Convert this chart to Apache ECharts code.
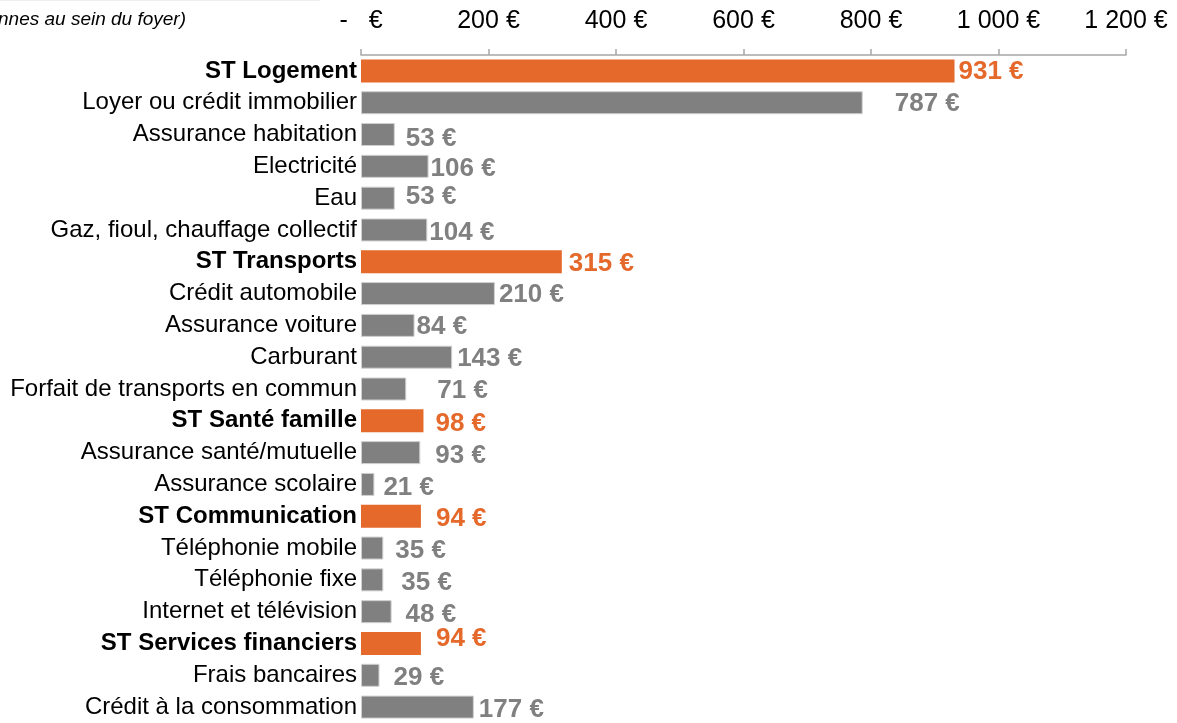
<!DOCTYPE html>
<html>
<head>
<meta charset="utf-8">
<script src="https://cdn.jsdelivr.net/npm/echarts@6/dist/echarts.min.js"></script>
<style>
  html, body { margin: 0; padding: 0; background: #fff; }
  #chart { width: 1177px; height: 723px; }
</style>
</head>
<body>
<div id="chart"></div>
<script>
const categories = [
  'ST Logement', 'Loyer ou crédit immobilier', 'Assurance habitation', 'Electricité', 'Eau',
  'Gaz, fioul, chauffage collectif', 'ST Transports', 'Crédit automobile', 'Assurance voiture',
  'Carburant', 'Forfait de transports en commun', 'ST Santé famille', 'Assurance santé/mutuelle',
  'Assurance scolaire', 'ST Communication', 'Téléphonie mobile', 'Téléphonie fixe',
  'Internet et télévision', 'ST Services financiers', 'Frais bancaires', 'Crédit à la consommation'
]
const values = [931, 787, 53, 106, 53, 104, 315, 210, 84, 143, 71, 98, 93, 21, 94, 35, 35, 48, 94, 29, 177]
const subtotal = [true, false, false, false, false, false, true, false, false, false, false,
  true, false, false, true, false, false, false, true, false, false]
const tickValues = [0, 200, 400, 600, 800, 1000, 1200]

// label nudges (px), as placed in the original sheet
const labelDx = [4, 32, 11, 2, 11, 2, 7, 4, 2, 5, 31, 12, 15, 9, 15, 12, 18, 14, 15, 14, 5]
const labelDy = [1, 1, 4, 2, -1, 3, 2, 1, 1, 2, 2, 3, 3, 3, 3, 3, 3, 3, -5, 3, 3]

const ORANGE = '#e4692a'
const GREY = '#808080'

const fmtEuro = v => {
  if (v === 0) return '-   €'
  return String(v).replace(/\B(?=(\d{3})+(?!\d))/g, ' ') + ' €'
}

const chart = echarts.init(document.getElementById('chart'))

const option = {
  animation: false,
  textStyle: { fontFamily: 'Liberation Sans, Arial, sans-serif' },
  graphic: [{
    type: 'line',
    shape: { x1: 0, y1: 0.5, x2: 320, y2: 0.5 },
    style: { stroke: '#eeeeee', lineWidth: 1 }
  }, {
    type: 'text',
    x: 186,
    y: 10,
    style: {
      text: '(sur la base de 4 personnes au sein du foyer)',
      font: 'italic 19px Liberation Sans, Arial, sans-serif',
      fill: '#000',
      align: 'right'
    }
  }],
  grid: { left: 361, right: 51, top: 55, bottom: -8, containLabel: false },
  xAxis: {
    type: 'value',
    position: 'top',
    min: 0,
    max: 1200,
    interval: 200,
    splitLine: { show: false },
    axisLine: { show: true, lineStyle: { color: '#a6a6a6', width: 1.5 } },
    axisTick: { show: true, length: 6, lineStyle: { color: '#a6a6a6', width: 1.5 } },
    axisLabel: {
      margin: 21,
      fontSize: 25,
      color: '#000',
      formatter: v => tickValues.includes(v) ? fmtEuro(v) : ''
    }
  },
  yAxis: {
    type: 'category',
    inverse: true,
    data: categories,
    axisLine: { show: false },
    axisTick: { show: false },
    axisLabel: {
      margin: 4,
      formatter: (v, i) => subtotal[i] ? '{b|' + v + '}' : '{n|' + v + '}',
      rich: {
        b: { fontSize: 24, fontWeight: 'bold', color: '#000' },
        n: { fontSize: 24, color: '#000' }
      }
    }
  },
  series: [{
    type: 'bar',
    barWidth: 23,
    data: values.map((v, i) => ({
      value: v,
      itemStyle: {
        color: subtotal[i] ? ORANGE : GREY,
        borderColor: subtotal[i] ? ORANGE : '#d0d0d0',
        borderWidth: subtotal[i] ? 0 : 1
      },
      label: {
        show: true,
        position: 'right',
        distance: 0,
        offset: [labelDx[i], labelDy[i]],
        formatter: fmtEuro(v),
        color: subtotal[i] ? ORANGE : GREY,
        fontSize: 26,
        fontWeight: 'bold'
      }
    }))
  }]
}

chart.setOption(option)
</script>
</body>
</html>
